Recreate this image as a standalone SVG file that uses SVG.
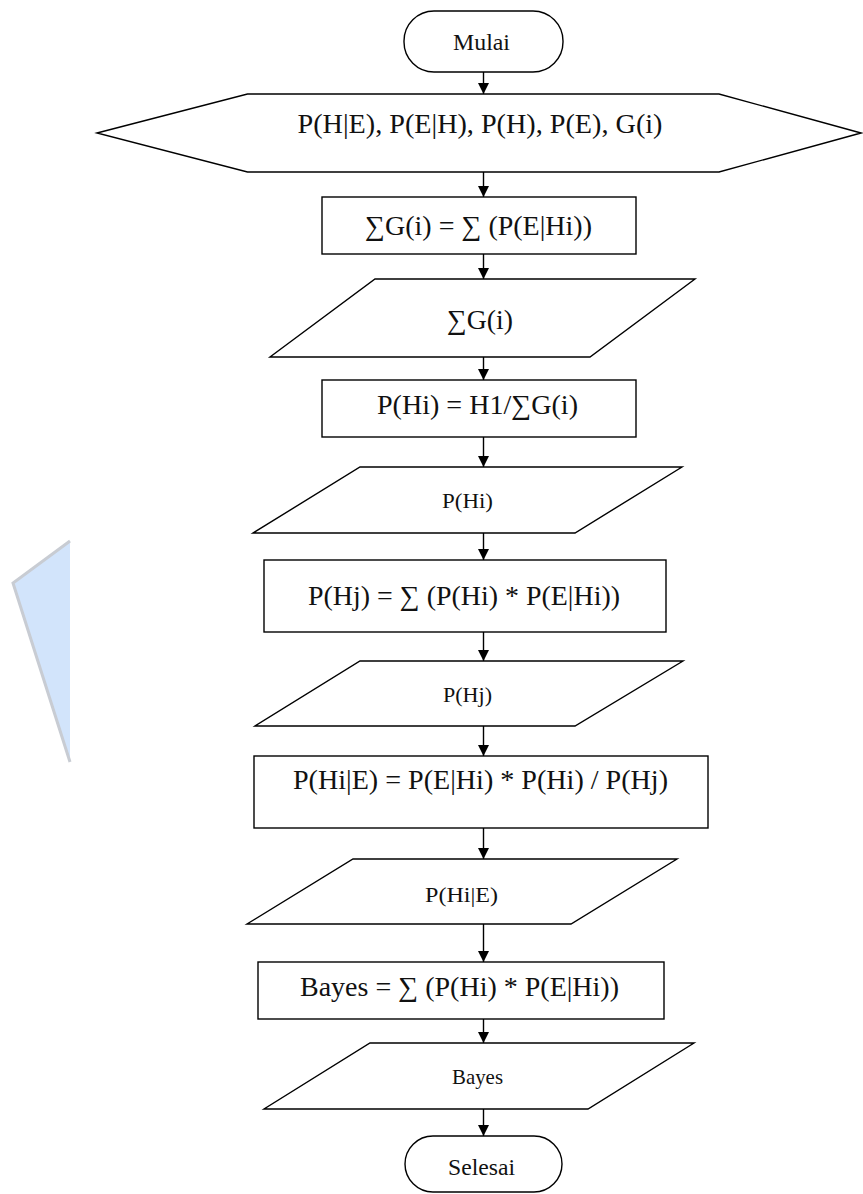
<svg xmlns="http://www.w3.org/2000/svg" width="863" height="1194" viewBox="0 0 863 1194">
<style>
.s{fill:#fff;stroke:#000;stroke-width:1.4}
.t{font-family:"Liberation Serif","Times New Roman",serif;fill:#111;text-anchor:middle}
.b{font-size:27px}
.m{font-size:22px}
.c line{stroke:#000;stroke-width:1.4}
</style>
<defs>
<marker id="ah" viewBox="0 0 10 10" refX="10" refY="5" markerWidth="11" markerHeight="11" markerUnits="userSpaceOnUse" orient="auto">
<path d="M0,0 L10,5 L0,10 Z" fill="#000"/>
</marker>
</defs>
<rect width="863" height="1194" fill="#fff"/>
<g id="watermark">
<path d="M70,541 L13,583 L70,762 Z" fill="#d2e4fb"/>
<polyline points="70,541 13,583 70,762" fill="none" stroke="#c8ccd3" stroke-width="3"/>
</g>
<g class="c" id="connectors">
<line x1="483.5" y1="72" x2="483.5" y2="94" marker-end="url(#ah)"/>
<line x1="483.5" y1="172" x2="483.5" y2="197" marker-end="url(#ah)"/>
<line x1="483.5" y1="254" x2="483.5" y2="279" marker-end="url(#ah)"/>
<line x1="483.5" y1="357" x2="483.5" y2="380" marker-end="url(#ah)"/>
<line x1="483.5" y1="437" x2="483.5" y2="467" marker-end="url(#ah)"/>
<line x1="483.5" y1="533" x2="483.5" y2="560" marker-end="url(#ah)"/>
<line x1="483.5" y1="632" x2="483.5" y2="661" marker-end="url(#ah)"/>
<line x1="483.5" y1="726" x2="483.5" y2="756" marker-end="url(#ah)"/>
<line x1="483.5" y1="828" x2="483.5" y2="859" marker-end="url(#ah)"/>
<line x1="483.5" y1="924" x2="483.5" y2="962" marker-end="url(#ah)"/>
<line x1="483.5" y1="1019" x2="483.5" y2="1043" marker-end="url(#ah)"/>
<line x1="483.5" y1="1109" x2="483.5" y2="1136" marker-end="url(#ah)"/>
</g>
<g id="mulai">
<rect class="s" x="404" y="11" width="159" height="61" rx="30" ry="30"/>
<text class="t" x="481.5" y="50" font-size="23" textLength="57" lengthAdjust="spacingAndGlyphs">Mulai</text>
</g>
<g id="input">
<polygon class="s" points="97,133 247.5,94 719,94 861,133 719,172 247.5,172"/>
<text class="t b" x="480" y="133" textLength="365" lengthAdjust="spacingAndGlyphs">P(H|E), P(E|H), P(H), P(E), G(i)</text>
</g>
<g id="proc1">
<rect class="s" x="322" y="197" width="314" height="57"/>
<text class="t b" x="478.5" y="235" textLength="227" lengthAdjust="spacingAndGlyphs">∑G(i) = ∑ (P(E|Hi))</text>
</g>
<g id="out1">
<polygon class="s" points="375,279 695,279 590,357 270,357"/>
<text class="t b" x="480" y="329" textLength="66" lengthAdjust="spacingAndGlyphs">∑G(i)</text>
</g>
<g id="proc2">
<rect class="s" x="322" y="380" width="314" height="57"/>
<text class="t b" x="477.5" y="414" textLength="201" lengthAdjust="spacingAndGlyphs">P(Hi) = H1/∑G(i)</text>
</g>
<g id="out2">
<polygon class="s" points="360,467 682,467 575,533 253,533"/>
<text class="t m" x="467.5" y="508" textLength="51" lengthAdjust="spacingAndGlyphs">P(Hi)</text>
</g>
<g id="proc3">
<rect class="s" x="264" y="560" width="402" height="72"/>
<text class="t b" x="464" y="605" textLength="312" lengthAdjust="spacingAndGlyphs">P(Hj) = ∑ (P(Hi) * P(E|Hi))</text>
</g>
<g id="out3">
<polygon class="s" points="360,661 683,661 575,726 255,726"/>
<text class="t m" x="467.5" y="702" textLength="49" lengthAdjust="spacingAndGlyphs">P(Hj)</text>
</g>
<g id="proc4">
<rect class="s" x="254" y="756" width="454" height="72"/>
<text class="t b" x="480.5" y="789" textLength="375" lengthAdjust="spacingAndGlyphs">P(Hi|E) = P(E|Hi) * P(Hi) / P(Hj)</text>
</g>
<g id="out4">
<polygon class="s" points="353,859 677,859 571,924 247,924"/>
<text class="t m" x="461.5" y="902" textLength="73" lengthAdjust="spacingAndGlyphs">P(Hi|E)</text>
</g>
<g id="proc5">
<rect class="s" x="258" y="962" width="406" height="57"/>
<text class="t b" x="459.5" y="996" textLength="319" lengthAdjust="spacingAndGlyphs">Bayes = ∑ (P(Hi) * P(E|Hi))</text>
</g>
<g id="out5">
<polygon class="s" points="370,1043 694,1043 588,1109 264,1109"/>
<text class="t m" x="477.5" y="1084" textLength="51" lengthAdjust="spacingAndGlyphs">Bayes</text>
</g>
<g id="selesai">
<rect class="s" x="405" y="1136" width="157" height="56" rx="28" ry="28"/>
<text class="t" x="481.5" y="1175" font-size="23" textLength="67" lengthAdjust="spacingAndGlyphs">Selesai</text>
</g>
</svg>
